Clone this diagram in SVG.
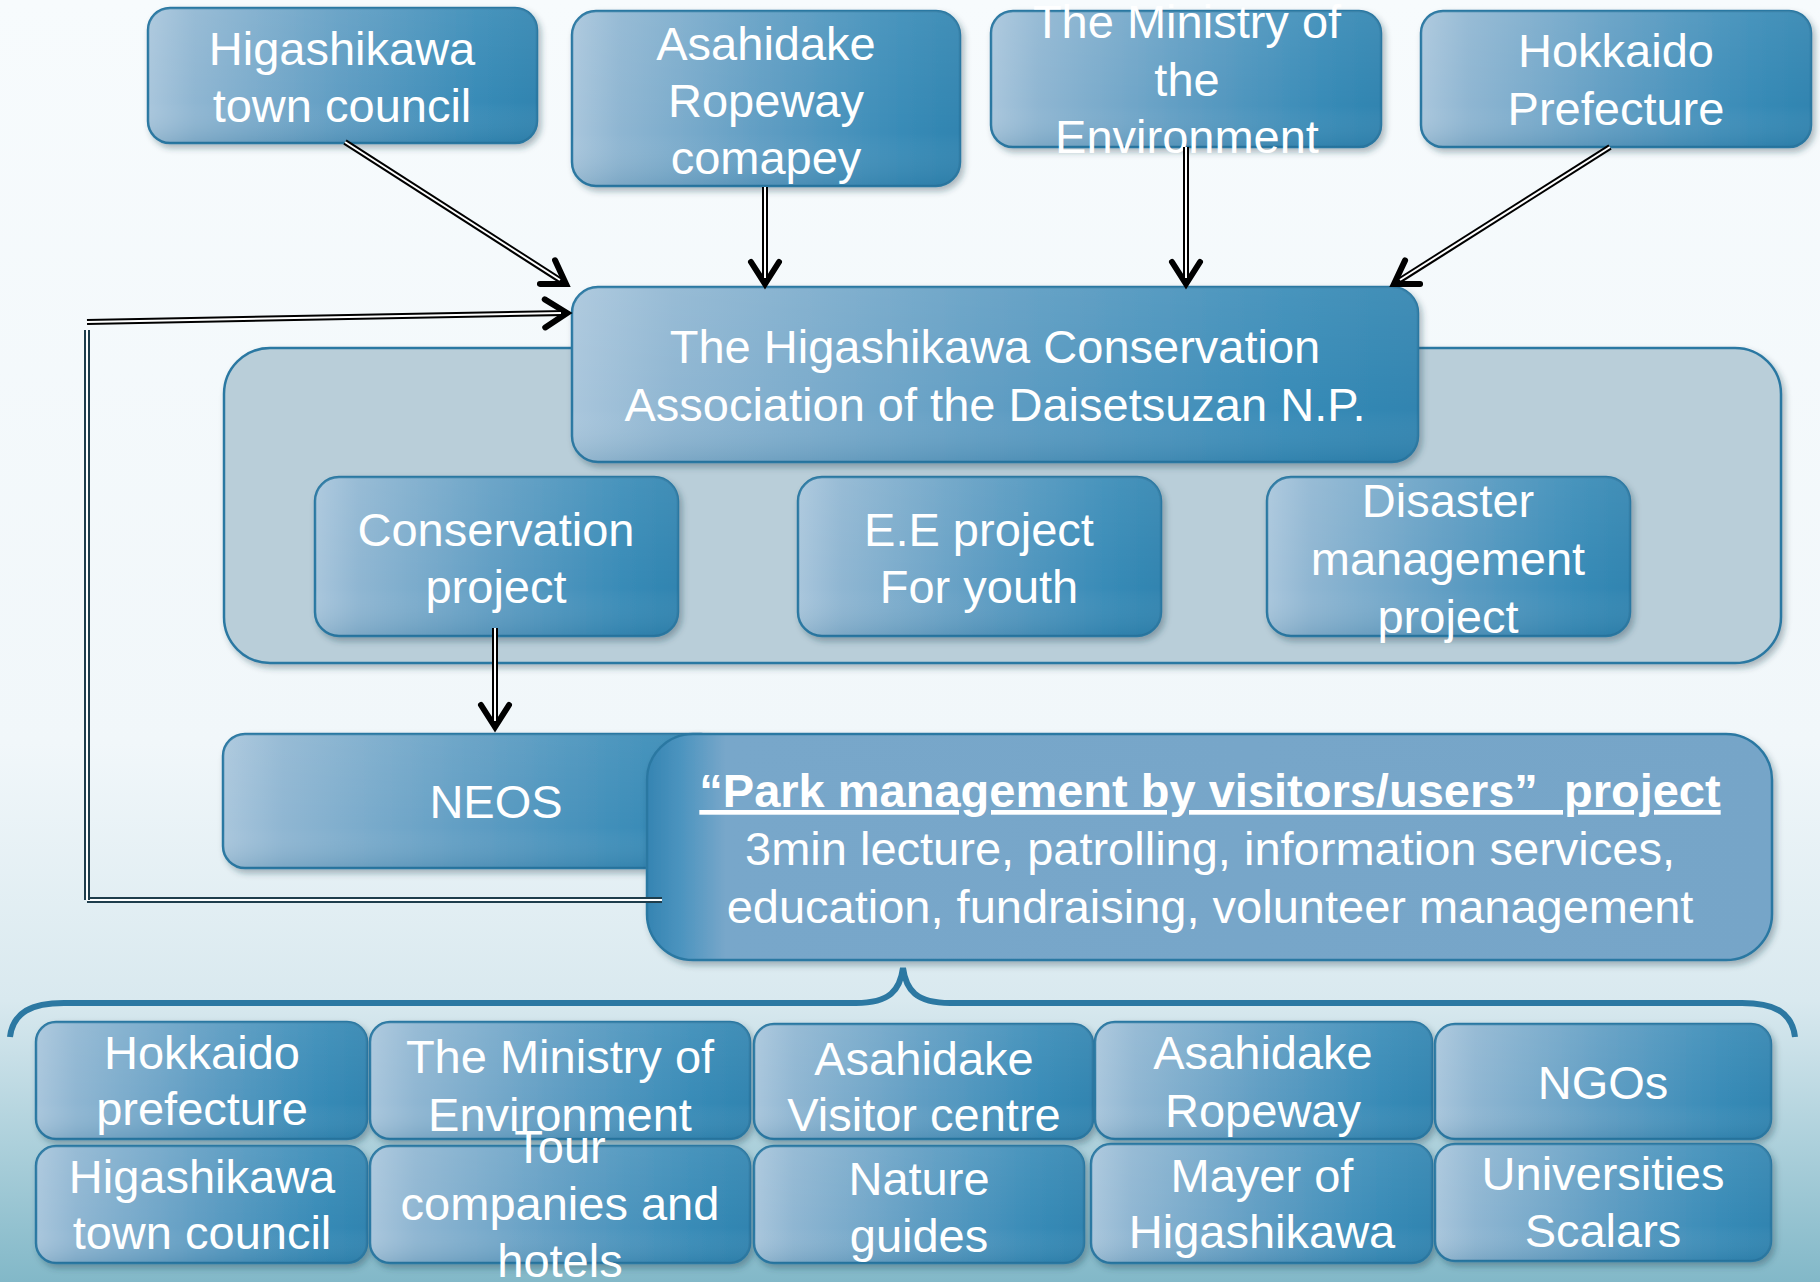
<svg xmlns="http://www.w3.org/2000/svg" width="1820" height="1282" viewBox="0 0 1820 1282">
<defs>
<linearGradient id="bg" x1="0" y1="0" x2="0" y2="1">
<stop offset="0" stop-color="#f7fbfd"/>
<stop offset="0.58" stop-color="#f1f7fa"/>
<stop offset="0.78" stop-color="#d9e9ef"/>
<stop offset="1" stop-color="#82b8c8"/>
</linearGradient>
<linearGradient id="boxGrad" x1="0" y1="0" x2="1" y2="0">
<stop offset="0" stop-color="#a9c6dc"/>
<stop offset="0.12" stop-color="#8fb6d2"/>
<stop offset="0.5" stop-color="#5f9dc3"/>
<stop offset="0.85" stop-color="#388bb7"/>
<stop offset="1" stop-color="#3084b0"/>
</linearGradient>
<linearGradient id="shade" x1="0" y1="0" x2="0" y2="1">
<stop offset="0" stop-color="#ffffff" stop-opacity="0.08"/>
<stop offset="0.7" stop-color="#ffffff" stop-opacity="0"/>
<stop offset="1" stop-color="#0b4f75" stop-opacity="0.15"/>
</linearGradient>
<linearGradient id="parkGrad" x1="0" y1="0" x2="1" y2="0">
<stop offset="0" stop-color="#3584b2"/>
<stop offset="0.03" stop-color="#4c94bf"/>
<stop offset="0.07" stop-color="#78a7ca"/>
<stop offset="1" stop-color="#76a5c8"/>
</linearGradient>
<filter id="sh" x="-10%" y="-10%" width="120%" height="130%">
<feDropShadow dx="3" dy="4" stdDeviation="3" flood-color="#1c3a4a" flood-opacity="0.35"/>
</filter>
<marker id="arr" markerUnits="userSpaceOnUse" markerWidth="40" markerHeight="40" viewBox="-30 -20 40 40" refX="0" refY="0" orient="auto">
<path d="M -22 -14 L 0 0 L -22 14" fill="none" stroke="#000" stroke-width="6" stroke-linecap="round" stroke-linejoin="miter"/>
</marker>
<style>
.box{fill:url(#boxGrad);stroke:#2c78a2;stroke-width:2.5;filter:url(#sh)}
.sh{fill:url(#shade);stroke:none}
.t{font-family:"Liberation Sans",Arial,sans-serif;font-size:47px;fill:#ffffff;text-anchor:middle}
.b{font-weight:bold}
.o{fill:none;stroke:#000;stroke-width:6}
.i{fill:none;stroke:#ffffff;stroke-width:2}
.lo{fill:none;stroke:#1e3d4c;stroke-width:6}
</style>
</defs>
<rect x="0" y="0" width="1820" height="1282" fill="url(#bg)"/>

<g id="container">
<rect x="224" y="348" width="1557" height="315" rx="46" fill="#b9ced9" stroke="#2c78a2" stroke-width="2.5" filter="url(#sh)"/>
</g>

<g id="n-higashikawa-top">
<rect class="box" x="148" y="8" width="389" height="135" rx="22"/>
<rect class="sh" x="148" y="8" width="389" height="135" rx="22"/>
<text class="t" x="342" y="65">Higashikawa</text>
<text class="t" x="342" y="122">town council</text>
</g>
<g id="n-ropeway-top">
<rect class="box" x="572" y="11" width="388" height="175" rx="24"/>
<rect class="sh" x="572" y="11" width="388" height="175" rx="24"/>
<text class="t" x="766" y="60">Asahidake</text>
<text class="t" x="766" y="117">Ropeway</text>
<text class="t" x="766" y="174">comapey</text>
</g>
<g id="n-ministry-top">
<rect class="box" x="991" y="11" width="390" height="136" rx="22"/>
<rect class="sh" x="991" y="11" width="390" height="136" rx="22"/>
<text class="t" x="1187" y="38">The Ministry of</text>
<text class="t" x="1187" y="96">the</text>
<text class="t" x="1187" y="153">Environment</text>
</g>
<g id="n-hokkaido-top">
<rect class="box" x="1421" y="11" width="390" height="136" rx="22"/>
<rect class="sh" x="1421" y="11" width="390" height="136" rx="22"/>
<text class="t" x="1616" y="67">Hokkaido</text>
<text class="t" x="1616" y="125">Prefecture</text>
</g>

<g id="n-association">
<rect class="box" x="572" y="287" width="846" height="175" rx="26"/>
<rect class="sh" x="572" y="287" width="846" height="175" rx="26"/>
<text class="t" x="995" y="363">The Higashikawa Conservation</text>
<text class="t" x="995" y="421">Association of the Daisetsuzan N.P.</text>
</g>

<g id="n-conservation">
<rect class="box" x="315" y="477" width="363" height="159" rx="24"/>
<rect class="sh" x="315" y="477" width="363" height="159" rx="24"/>
<text class="t" x="496" y="546">Conservation</text>
<text class="t" x="496" y="603">project</text>
</g>
<g id="n-ee">
<rect class="box" x="798" y="477" width="363" height="159" rx="24"/>
<rect class="sh" x="798" y="477" width="363" height="159" rx="24"/>
<text class="t" x="979" y="546">E.E project</text>
<text class="t" x="979" y="603">For youth</text>
</g>
<g id="n-disaster">
<rect class="box" x="1267" y="477" width="363" height="159" rx="24"/>
<rect class="sh" x="1267" y="477" width="363" height="159" rx="24"/>
<text class="t" x="1448" y="517">Disaster</text>
<text class="t" x="1448" y="575">management</text>
<text class="t" x="1448" y="633">project</text>
</g>

<g id="n-neos">
<rect class="box" x="223" y="734" width="500" height="134" rx="22"/>
<rect class="sh" x="223" y="734" width="500" height="134" rx="22"/>
<text class="t" x="496" y="818">NEOS</text>
</g>
<g id="n-park">
<rect x="647" y="734" width="1125" height="226" rx="46" fill="url(#parkGrad)" stroke="#2c78a2" stroke-width="2.5" filter="url(#sh)"/>
<text class="t b" x="1210" y="807" text-decoration="underline">“Park management by visitors/users”&#160; project</text>
<text class="t" x="1210" y="865">3min lecture, patrolling, information services,</text>
<text class="t" x="1210" y="923">education, fundraising, volunteer management</text>
</g>

<g id="brace">
<path d="M 10 1037 C 13 1012 32 1003 64 1003 L 856 1003 C 890 1003 900 990 903 968 C 906 990 916 1003 950 1003 L 1742 1003 C 1774 1003 1792 1012 1795 1037" fill="none" stroke="#2c78a2" stroke-width="6"/>
</g>

<g id="n-b-hokkaido">
<rect class="box" x="36" y="1022" width="331" height="117" rx="20"/>
<rect class="sh" x="36" y="1022" width="331" height="117" rx="20"/>
<text class="t" x="202" y="1069">Hokkaido</text>
<text class="t" x="202" y="1125">prefecture</text>
</g>
<g id="n-b-ministry">
<rect class="box" x="370" y="1022" width="380" height="117" rx="20"/>
<rect class="sh" x="370" y="1022" width="380" height="117" rx="20"/>
<text class="t" x="560" y="1073">The Ministry of</text>
<text class="t" x="560" y="1131">Environment</text>
</g>
<g id="n-b-visitor">
<rect class="box" x="754" y="1024" width="339" height="115" rx="20"/>
<rect class="sh" x="754" y="1024" width="339" height="115" rx="20"/>
<text class="t" x="924" y="1075">Asahidake</text>
<text class="t" x="924" y="1131">Visitor centre</text>
</g>
<g id="n-b-ropeway">
<rect class="box" x="1095" y="1022" width="337" height="117" rx="20"/>
<rect class="sh" x="1095" y="1022" width="337" height="117" rx="20"/>
<text class="t" x="1263" y="1069">Asahidake</text>
<text class="t" x="1263" y="1127">Ropeway</text>
</g>
<g id="n-b-ngos">
<rect class="box" x="1435" y="1024" width="336" height="115" rx="20"/>
<rect class="sh" x="1435" y="1024" width="336" height="115" rx="20"/>
<text class="t" x="1603" y="1099">NGOs</text>
</g>
<g id="n-b-higashikawa">
<rect class="box" x="36" y="1146" width="331" height="117" rx="20"/>
<rect class="sh" x="36" y="1146" width="331" height="117" rx="20"/>
<text class="t" x="202" y="1193">Higashikawa</text>
<text class="t" x="202" y="1249">town council</text>
</g>
<g id="n-b-tour">
<rect class="box" x="370" y="1146" width="380" height="117" rx="20"/>
<rect class="sh" x="370" y="1146" width="380" height="117" rx="20"/>
<text class="t" x="560" y="1163">Tour</text>
<text class="t" x="560" y="1220">companies and</text>
<text class="t" x="560" y="1277">hotels</text>
</g>
<g id="n-b-guides">
<rect class="box" x="754" y="1146" width="330" height="117" rx="20"/>
<rect class="sh" x="754" y="1146" width="330" height="117" rx="20"/>
<text class="t" x="919" y="1195">Nature</text>
<text class="t" x="919" y="1252">guides</text>
</g>
<g id="n-b-mayer">
<rect class="box" x="1091" y="1144" width="341" height="119" rx="20"/>
<rect class="sh" x="1091" y="1144" width="341" height="119" rx="20"/>
<text class="t" x="1262" y="1192">Mayer of</text>
<text class="t" x="1262" y="1248">Higashikawa</text>
</g>
<g id="n-b-universities">
<rect class="box" x="1435" y="1144" width="336" height="117" rx="20"/>
<rect class="sh" x="1435" y="1144" width="336" height="117" rx="20"/>
<text class="t" x="1603" y="1190">Universities</text>
<text class="t" x="1603" y="1247">Scalars</text>
</g>

<g id="connectors">
<path class="o" d="M 345 142 L 566 284" marker-end="url(#arr)"/>
<path class="i" d="M 345 142 L 560 280"/>
<path class="o" d="M 765 187 L 765 284" marker-end="url(#arr)"/>
<path class="i" d="M 765 187 L 765 278"/>
<path class="o" d="M 1186 147 L 1186 284" marker-end="url(#arr)"/>
<path class="i" d="M 1186 147 L 1186 278"/>
<path class="o" d="M 1610 147 L 1394 284" marker-end="url(#arr)"/>
<path class="i" d="M 1610 147 L 1400 280"/>
<path class="o" d="M 495 628 L 495 727" marker-end="url(#arr)"/>
<path class="i" d="M 495 628 L 495 721"/>
<path class="lo" d="M 662 900 L 87 900"/>
<path class="i" d="M 662 900 L 87 900"/>
<path class="lo" d="M 87 900 L 87 330"/>
<path class="i" d="M 87 900 L 87 330"/>
<path class="o" d="M 87 322 L 567 313" marker-end="url(#arr)"/>
<path class="i" d="M 87 322 L 561 313.1"/>
</g>
</svg>
